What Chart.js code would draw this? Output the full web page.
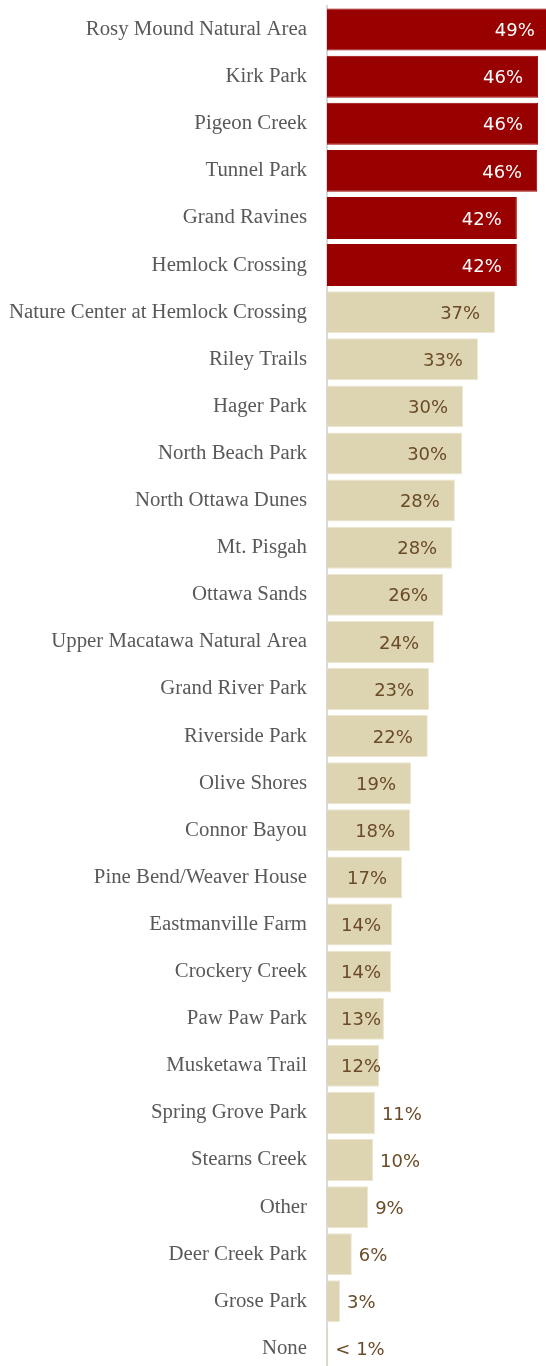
<!DOCTYPE html>
<html>
<head>
<meta charset="utf-8">
<script src="https://cdn.jsdelivr.net/npm/chart.js@4"></script>
<style>
html,body{margin:0;padding:0;background:#fff;overflow:hidden;}
#wrap{width:546px;height:1366px;overflow:hidden;position:relative;}
canvas{display:block;}
</style>
</head>
<body>
<div id="wrap"><canvas id="c" width="546" height="1372"></canvas></div>
<script>
const categories = ["Rosy Mound Natural Area","Kirk Park","Pigeon Creek","Tunnel Park","Grand Ravines","Hemlock Crossing","Nature Center at Hemlock Crossing","Riley Trails","Hager Park","North Beach Park","North Ottawa Dunes","Mt. Pisgah","Ottawa Sands","Upper Macatawa Natural Area","Grand River Park","Riverside Park","Olive Shores","Connor Bayou","Pine Bend/Weaver House","Eastmanville Farm","Crockery Creek","Paw Paw Park","Musketawa Trail","Spring Grove Park","Stearns Creek","Other","Deer Creek Park","Grose Park","None"];
const values = [49.3,46.7,46.7,46.5,42.0,42.0,37.2,33.4,30.1,29.9,28.3,27.7,25.7,23.7,22.6,22.3,18.6,18.4,16.6,14.4,14.2,12.6,11.5,10.6,10.2,9.1,5.5,2.9,0.3];
const valueLabels = ["49%","46%","46%","46%","42%","42%","37%","33%","30%","30%","28%","28%","26%","24%","23%","22%","19%","18%","17%","14%","14%","13%","12%","11%","10%","9%","6%","3%","< 1%"];
const highlightCount = 6;

const RED = '#990000', BEIGE = '#ddd4b2';
const barColors = values.map((v,i)=> i < highlightCount ? RED : BEIGE);
const borderColors = values.map((v,i)=> i < highlightCount ? RED : '#ece6d0');

const labelPlugin = {
  id:'valLabels',
  afterDatasetsDraw(chart){
    const ctx = chart.ctx;
    const meta = chart.getDatasetMeta(0);
    const left = chart.chartArea.left;
    ctx.save();
    ctx.font = '18px "DejaVu Sans"';
    ctx.textBaseline = 'middle';
    meta.data.forEach((bar,i)=>{
      const txt = valueLabels[i];
      const w = ctx.measureText(txt).width;
      const end = bar.x;
      const y = bar.y + 2;
      let x;
      if (values[i] >= 11) {
        x = Math.max(end - 15 - w, left + 14);
        ctx.fillStyle = i < highlightCount ? '#ffffff' : '#6b4b27';
      } else {
        x = end + 7;
        ctx.fillStyle = '#6b4b27';
      }
      ctx.textAlign = 'left';
      ctx.fillText(txt, x, y);
    });
    ctx.restore();
  }
};

new Chart(document.getElementById('c'), {
  type:'bar',
  data:{
    labels: categories,
    datasets:[{
      data: values,
      backgroundColor: barColors,
      borderColor: borderColors,
      borderWidth: 1,
      categoryPercentage: 0.9,
      barPercentage: 0.99
    }]
  },
  options:{
    indexAxis:'y',
    responsive:false,
    animation:false,
    layout:{padding:{top:6,bottom:0,left:0,right:0}},
    plugins:{legend:{display:false},tooltip:{enabled:false}},
    scales:{
      x:{display:false,min:0,max:48.45},
      y:{
        afterFit(s){ s.width = 327; s.paddingTop = 0; s.paddingBottom = 0; },
        grid:{display:false,drawTicks:false},
        border:{display:true,color:'#d9d9d9',width:2},
        ticks:{
          color:'#595959',
          padding:20,
          font:{family:'"Liberation Serif"',size:20.8},
          autoSkip:false
        }
      }
    }
  },
  plugins:[labelPlugin]
});
</script>
</body>
</html>
